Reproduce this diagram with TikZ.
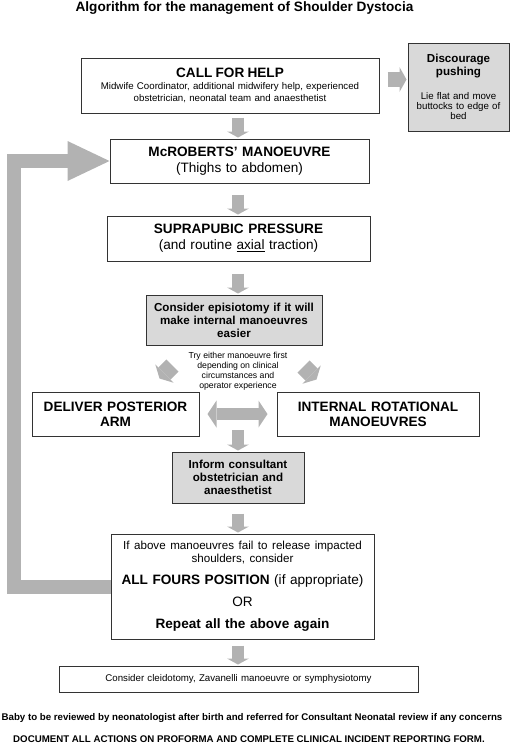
\documentclass[tikz,border=0pt]{standalone}
\usepackage{fontspec}
\setmainfont{Liberation Sans}
\usetikzlibrary{arrows.meta}

\definecolor{arrowgrey}{gray}{0.70}
\definecolor{boxgrey}{gray}{0.85}

\newcommand\fsbig{\fontsize{13.6}{16}\selectfont}
\newcommand\fsmid{\fontsize{11.6}{13}\selectfont}
\newcommand\fssmall{\fontsize{9.7}{11.7}\selectfont}
\newcommand\fstiny{\fontsize{8.7}{10}\selectfont}

\tikzset{
  box/.style={draw=black!80, line width=1pt, fill=white, align=center, inner sep=2pt},
  greybox/.style={box, fill=boxgrey},
  downarrow/.style={draw=arrowgrey, line width=12pt, shorten >=1pt,
    -{Triangle[width=22pt,length=6pt,line width=0pt]}},
  sidearrow/.style={draw=arrowgrey, line width=15pt, shorten <=8pt, shorten >=1pt,
    -{Triangle[width=25pt,length=7pt,line width=0pt]}},
  twinarrow/.style={draw=arrowgrey, line width=12pt, shorten <=8pt, shorten >=9pt,
    {Triangle[width=27pt,length=9pt,line width=0pt]}-{Triangle[width=27pt,length=9pt,line width=0pt]}},
  slantarrow/.style={draw=arrowgrey, line width=17pt,
    -{Triangle[width=26pt,length=7pt,line width=0pt]}},
  looparrow/.style={draw=arrowgrey, line width=14pt, line join=miter,
    -{Triangle[width=40pt,length=42pt,line width=0pt]}},
}

\begin{document}
\begin{tikzpicture}[x=1pt,y=-1pt]
  \useasboundingbox (0,0) rectangle (510,744);
  \coordinate (axis) at (238,0);
  \coordinate (pushrow) at (0,79.5);
  \coordinate (loop) at (13.5,0);
  \coordinate (mid) at (238,430);

  \node (title) [anchor=base, font=\bfseries\fsbig] at (244.5,12)
    {Algorithm for the management of Shoulder Dystocia};

  % boxes
  \node (help) [box, text width=294pt, minimum height=55pt, font=\fssmall] at (230,85.5)
    {{\fsbig\bfseries CALL FOR HELP\par}Midwife Coordinator, additional midwifery help, experienced\\obstetrician, neonatal team and anaesthetist};
  \node (disc) [greybox, text width=97pt, minimum height=88pt, font=\fontsize{9.7}{10}\selectfont] at (458.5,87)
    {{\fsmid\bfseries Discourage\\pushing\par}\vspace{14pt}Lie flat and move\\buttocks to edge of\\bed};
  \node (mcr) [box, text width=255pt, minimum height=44pt, font=\fsbig] at (239.5,161)
    {{\bfseries McROBERTS’ MANOEUVRE}\\(Thighs to abdomen)};
  \node (supra) [box, text width=259pt, minimum height=45pt, font=\fsbig] at (238.5,238.5)
    {{\bfseries SUPRAPUBIC PRESSURE}\\(and routine \underline{axial} traction)};
  \node (epis) [greybox, text width=172pt, minimum height=50pt, font=\bfseries\fsmid] at (234,320)
    {Consider episiotomy if it will\\make internal manoeuvres\\easier};
  \node (tryit) [align=center, font=\fstiny] at (238,371)
    {Try either manoeuvre first\\depending on clinical\\circumstances and\\operator experience};
  \node (deliver) [box, text width=163pt, minimum height=44pt, font=\bfseries\fontsize{13.6}{15}\selectfont] at (115.5,414)
    {DELIVER POSTERIOR\\ARM};
  \node (internal) [box, text width=198pt, minimum height=44pt, font=\bfseries\fontsize{13.6}{15}\selectfont] at (378,414)
    {INTERNAL ROTATIONAL\\MANOEUVRES};
  \node (inform) [greybox, text width=128pt, minimum height=51pt, font=\bfseries\fsmid] at (238,477.5)
    {Inform consultant\\obstetrician and\\anaesthetist};
  \node (big) [box, text width=259pt, minimum height=105pt, font=\fontsize{13.6}{22}\selectfont] at (242.5,586.5)
    {{\fsmid If above manoeuvres fail to release impacted\\shoulders, consider\par}\textbf{ALL FOURS POSITION} (if appropriate)\\OR\\\textbf{Repeat all the above again}};
  \node (cleido) [box, text width=355pt, minimum height=26pt, font=\fssmall] at (238.5,679)
    {Consider cleidotomy, Zavanelli manoeuvre or symphysiotomy};

  \node (neonatal) [anchor=base, font=\bfseries\fssmall] at (252,720)
    {Baby to be reviewed by neonatologist after birth and referred for Consultant Neonatal review if any concerns};
  \node (document) [anchor=base, font=\bfseries\fssmall] at (249,742)
    {DOCUMENT ALL ACTIONS ON PROFORMA AND COMPLETE CLINICAL INCIDENT REPORTING FORM.};

  % arrows
  \foreach \from/\to/\gap in {help/mcr/4pt, mcr/supra/11pt, supra/epis/12pt, inform/big/10pt, big/cleido/6pt}
    \draw[downarrow, shorten <=\gap] (\from.south -| axis) -- (\to.north -| axis);
  \draw[downarrow] (mid) -- (inform.north -| axis);
  \draw[sidearrow] (help.east |- pushrow) -- (disc.west |- pushrow);
  \draw[twinarrow] (deliver.east) -- (internal.west);
  \draw[slantarrow] ([shift={(27,20)}]epis.south west) -- ([shift={(-40,-13)}]deliver.north east);
  \draw[slantarrow] ([shift={(-19,21)}]epis.south east) -- ([shift={(40,-12)}]internal.north west);
  \draw[looparrow] (big.west) -- (big.west -| loop) -- (mcr.west -| loop) -- (mcr.west);
\end{tikzpicture}
\end{document}
